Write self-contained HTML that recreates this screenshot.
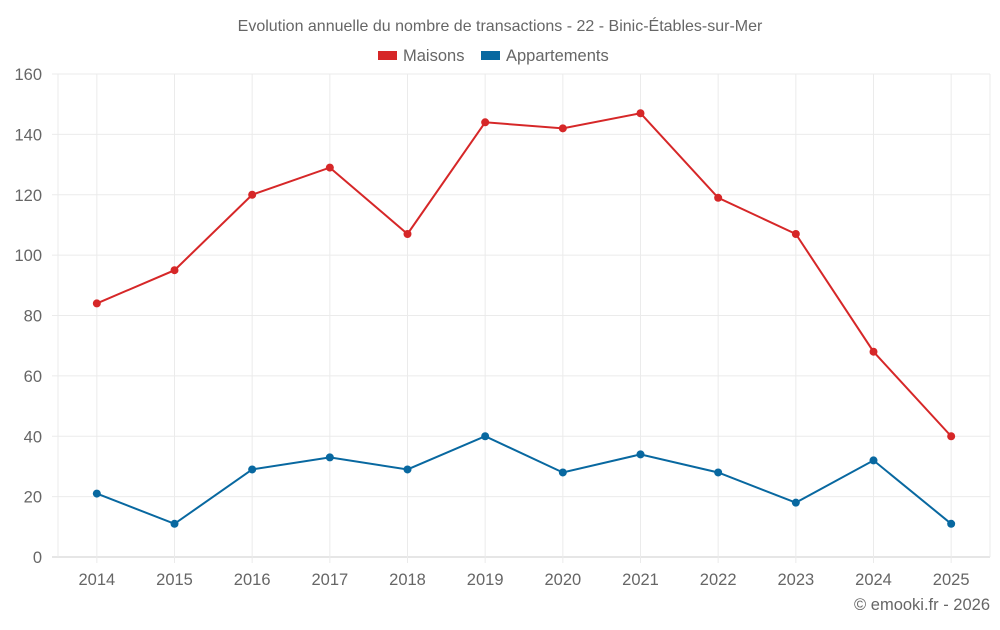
<!DOCTYPE html>
<html><head><meta charset="utf-8"><style>
body{margin:0;background:#fff;font-family:"Liberation Sans",sans-serif;}
svg text{font-family:"Liberation Sans",sans-serif;fill:#666;}
</style></head><body>
<svg id="chart" width="1000" height="625">
<text x="500" y="31" text-anchor="middle" font-size="16">Evolution annuelle du nombre de transactions - 22 - Binic-Étables-sur-Mer</text>
<g>
<g><rect x="378" y="51" width="19" height="9" fill="#d62728"/><text x="403" y="61" font-size="16.5">Maisons</text></g>
<g><rect x="481" y="51" width="19" height="9" fill="#0868a0"/><text x="506" y="61" font-size="16.5">Appartements</text></g>
</g>
<g id="grid"></g><g id="axes"></g><g id="series"></g>
<text x="990" y="610" text-anchor="end" font-size="16.5">© emooki.fr - 2026</text>
</svg>
<script>
const categories=["2014","2015","2016","2017","2018","2019","2020","2021","2022","2023","2024","2025"];
const maisons=[84,95,120,129,107,144,142,147,119,107,68,40];
const appartements=[21,11,29,33,29,40,28,34,28,18,32,11];
const yTicks=[0,20,40,60,80,100,120,140,160];
const NS="http://www.w3.org/2000/svg";
const L=58,R=990,T=74,B=557,yMax=160;
const bw=(R-L)/categories.length;
const x=i=>L+bw*(i+0.5);
const y=v=>B-(v/yMax)*(B-T);
function mk(t,a,p){const e=document.createElementNS(NS,t);for(const k in a)e.setAttribute(k,a[k]);p.appendChild(e);return e;}
const g=document.getElementById('grid'),ax=document.getElementById('axes'),s=document.getElementById('series');
yTicks.forEach(v=>{
 const l=mk('line',{x1:L-6,x2:R,y1:y(v),y2:y(v),stroke:v===0?'#ccc':'#ebebeb'},g);
 
 
 const t=mk('text',{x:L-16,y:y(v)+6,'text-anchor':'end','font-size':16.5},ax);t.textContent=v;
 
 
});
[L,R].forEach(px=>{
 const l=mk('line',{x1:px,x2:px,y1:T,y2:B,stroke:'#ebebeb'},g);
 
 
});
categories.forEach((c,i)=>{
 const l=mk('line',{x1:x(i),x2:x(i),y1:T,y2:B+6,stroke:'#ebebeb'},g);
 
 
 const t=mk('text',{x:x(i),y:585,'text-anchor':'middle','font-size':16.5},ax);t.textContent=c;
 
 
});
function draw(data,color,name){
 const p=mk('polyline',{points:data.map((v,i)=>x(i)+','+y(v)).join(' '),fill:'none',stroke:color,'stroke-width':2},s);
 
 
 data.forEach((v,i)=>{
  const c=mk('circle',{cx:x(i),cy:y(v),r:4,fill:color},s);
  
  
 });
}
draw(maisons,'#d62728','maisons');
draw(appartements,'#0868a0','appartements');
</script>
</body></html>
